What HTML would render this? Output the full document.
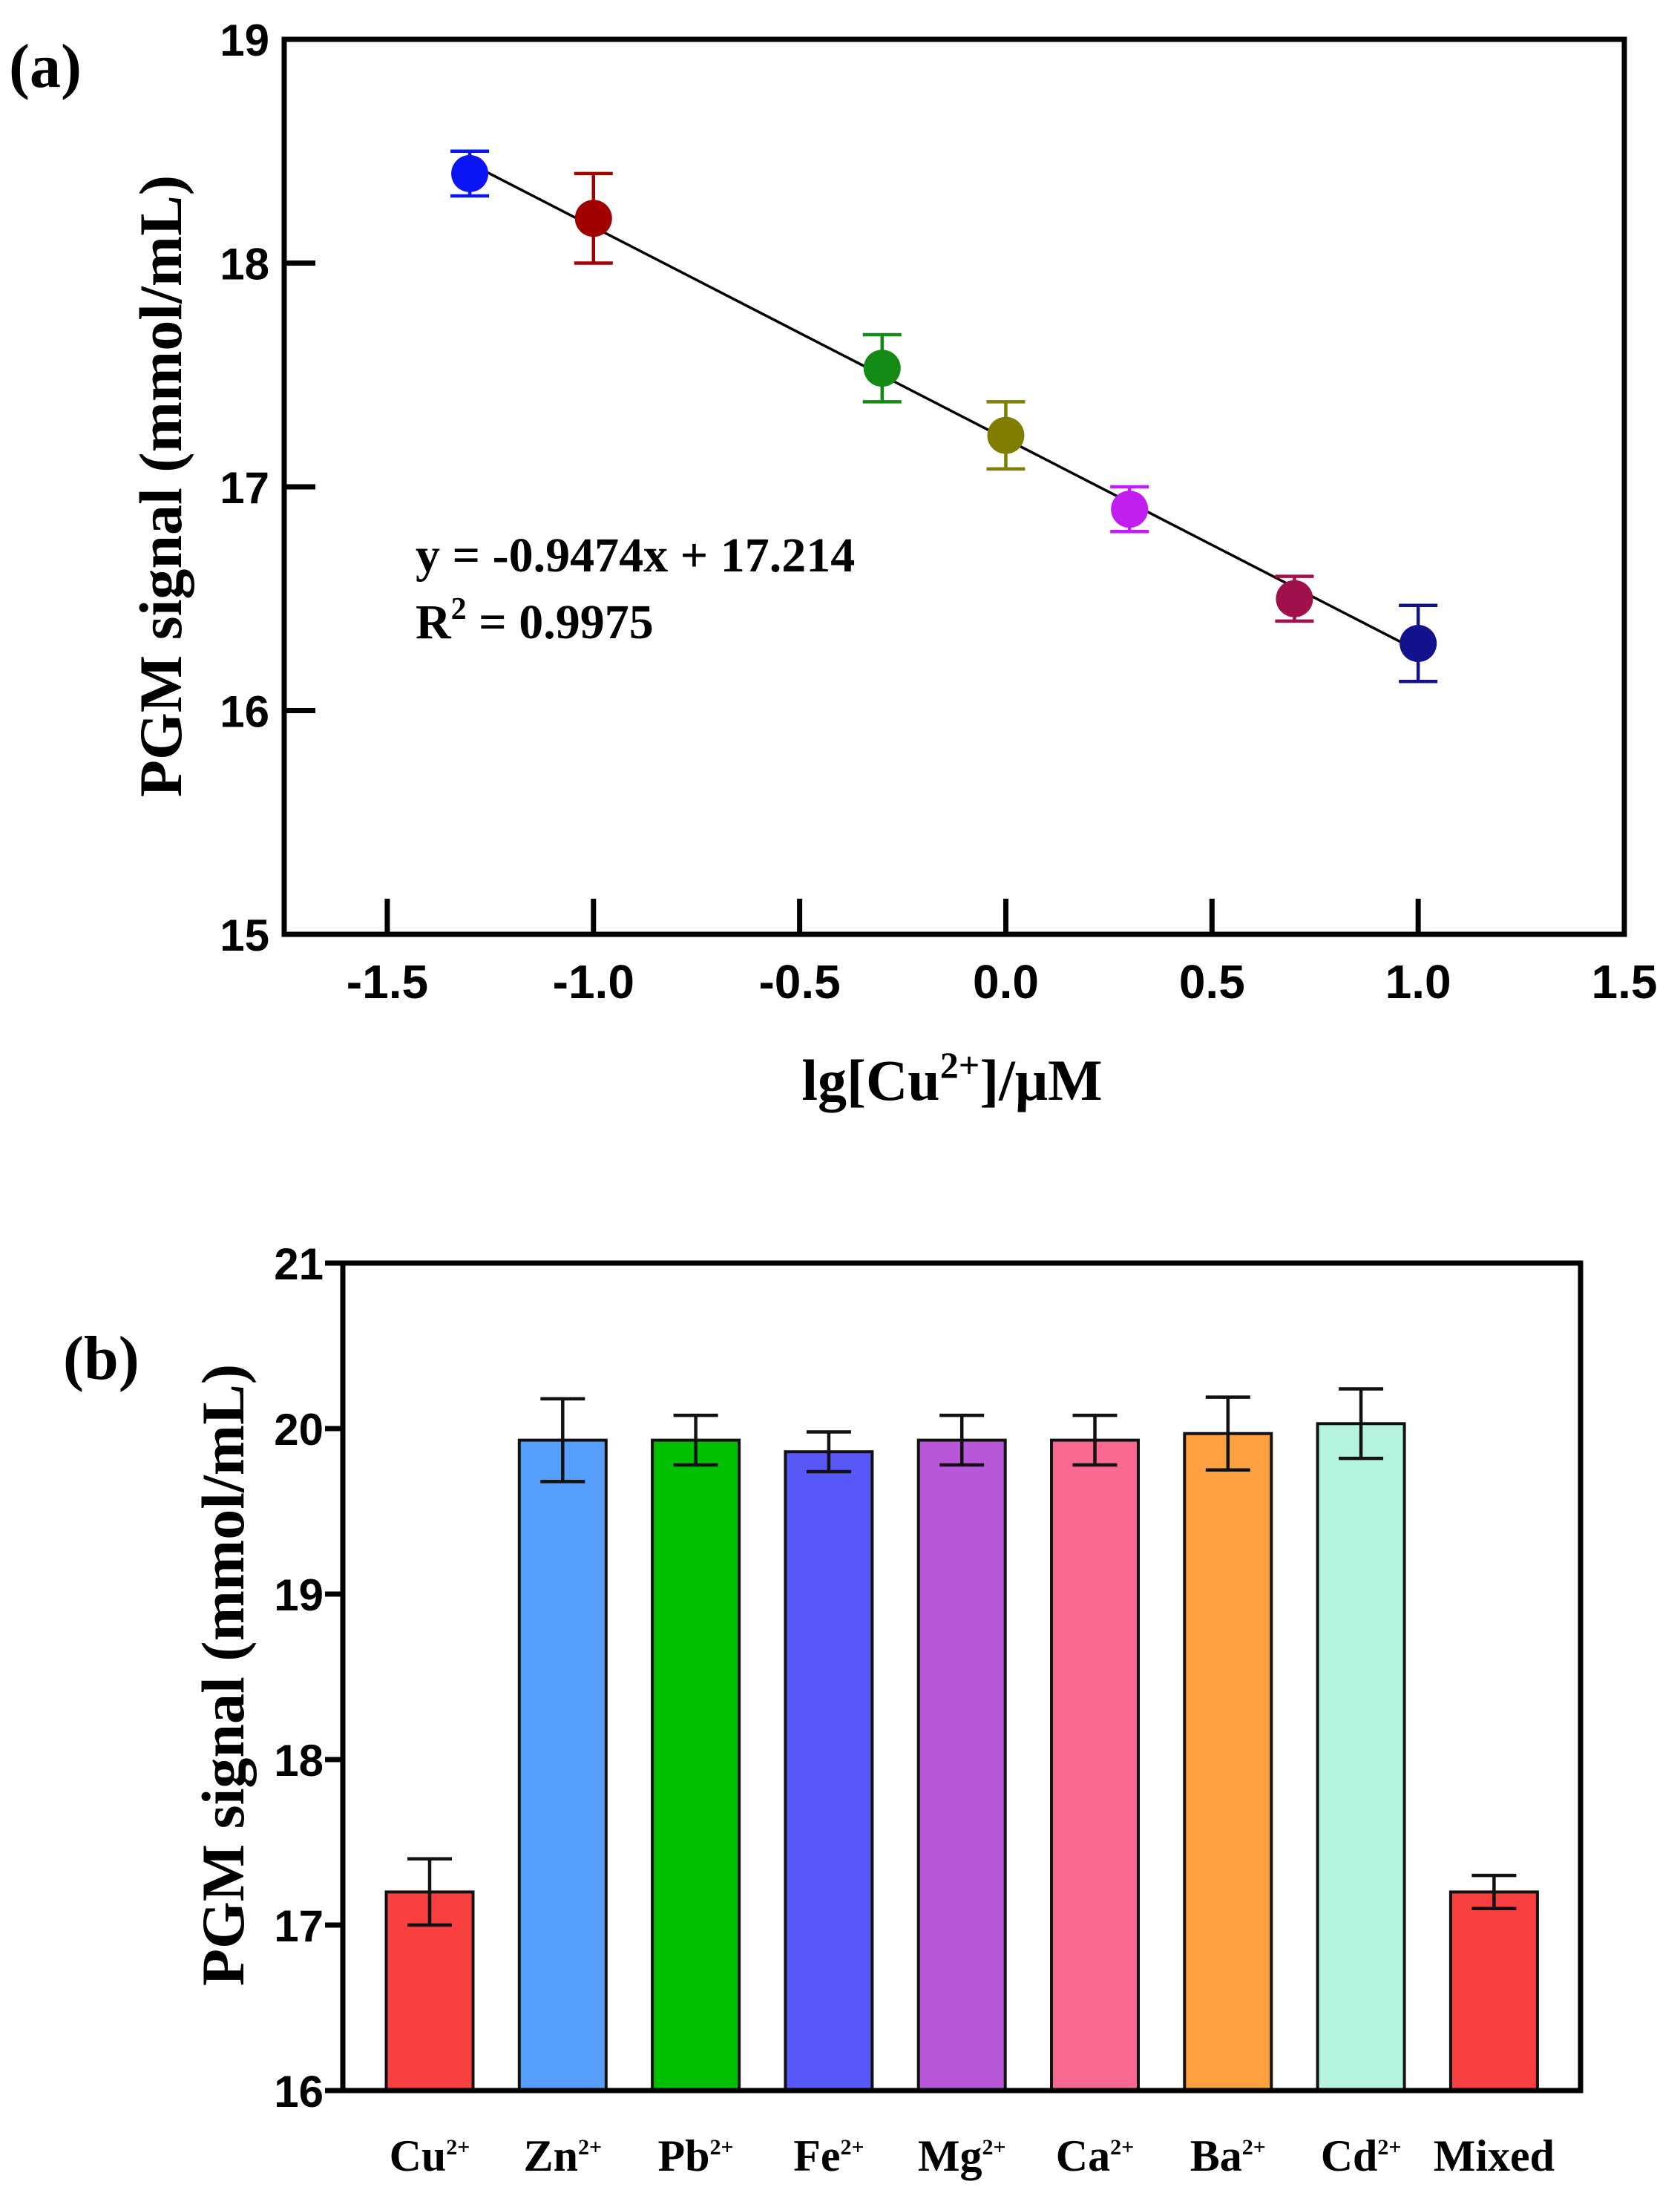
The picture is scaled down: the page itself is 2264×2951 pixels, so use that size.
<!DOCTYPE html>
<html><head><meta charset="utf-8"><style>
html,body{margin:0;padding:0;background:#fff;}
svg{display:block;}
.tk{font-family:"Liberation Sans",Arial,sans-serif;font-weight:bold;}
.tm{font-family:"Liberation Serif","Times New Roman",serif;font-weight:bold;}
</style></head><body>
<svg id="fig" width="2264" height="2951" viewBox="0 0 2264 2951" xmlns="http://www.w3.org/2000/svg">
<text class="tm" x="12" y="117" font-size="84">(a)</text>
<text class="tm" x="85" y="1858" font-size="84">(b)</text>
<g id="chartA"></g>
<g id="chartB"></g>
</svg>
<script>
// ----- chart A data -----
const aX = [-1.3, -1.0, -0.3, 0.0, 0.3, 0.7, 1.0];
const aY = [18.4, 18.2, 17.53, 17.23, 16.9, 16.5, 16.3];
const aErr = [0.1, 0.2, 0.15, 0.15, 0.1, 0.1, 0.17];
const aColors = ['#0a14f5', '#a00000', '#138a13', '#807e00', '#c21ef0', '#a0104c', '#12128c'];
const aXTicks = [-1.5, -1.0, -0.5, 0.0, 0.5, 1.0, 1.5];
const aXTickLabels = ['-1.5', '-1.0', '-0.5', '0.0', '0.5', '1.0', '1.5'];
const aYTicks = [15, 16, 17, 18, 19];
const aYTickLabels = ['15', '16', '17', '18', '19'];
const fitSlope = -0.9474;
const fitIntercept = 17.214;
// ----- chart B data -----
const bCats = ['Cu', 'Zn', 'Pb', 'Fe', 'Mg', 'Ca', 'Ba', 'Cd', 'Mixed'];
const bSup = ['2+', '2+', '2+', '2+', '2+', '2+', '2+', '2+', ''];
const bVals = [17.2, 19.93, 19.93, 19.86, 19.93, 19.93, 19.97, 20.03, 17.2];
const bErr = [0.2, 0.25, 0.15, 0.12, 0.15, 0.15, 0.22, 0.21, 0.1];
const bColors = ['#f84040', '#569ffc', '#00c000', '#5858f8', '#b858d8', '#f86890', '#fca040', '#b4f4dc', '#f84040'];
const bYTicks = [16, 17, 18, 19, 20, 21];
const bYTickLabels = ['16', '17', '18', '19', '20', '21'];

const NS = 'http://www.w3.org/2000/svg';
function mk(tag, attrs, parent) {
  const e = document.createElementNS(NS, tag);
  for (const k in attrs) e.setAttribute(k, attrs[k]);
  parent.appendChild(e);
  return e;
}

// ===== Chart A =====
(function () {
  const g = document.getElementById('chartA');
  const L = 383, R = 2189, T = 53, B = 1259;
  const xMin = -1.75, xMax = 1.5, yMin = 15, yMax = 19;
  const sx = v => L + (v - xMin) / (xMax - xMin) * (R - L);
  const sy = v => B - (v - yMin) / (yMax - yMin) * (B - T);

  aYTicks.forEach((t, i) => {
    const ln = mk('line', {x1: L, x2: L + 42, y1: sy(t), y2: sy(t), stroke: '#000', 'stroke-width': 7}, g);
    
    
    const tx = mk('text', {x: L - 20, y: sy(t) + 22, 'text-anchor': 'end', 'font-size': 60, class: 'tk'}, g);
    tx.textContent = aYTickLabels[i];
    
    
  });
  aXTicks.forEach((t, i) => {
    if (t > xMin && t < xMax) {
      const ln = mk('line', {x1: sx(t), x2: sx(t), y1: B, y2: B - 48, stroke: '#000', 'stroke-width': 7}, g);
      
      
    }
    const tx = mk('text', {x: sx(t), y: B + 86, 'text-anchor': 'middle', 'font-size': 64, class: 'tk'}, g);
    tx.textContent = aXTickLabels[i];
    
    
  });

  const x0 = Math.min(...aX), x1 = Math.max(...aX);
  const fit = mk('line', {x1: sx(x0), y1: sy(fitSlope * x0 + fitIntercept), x2: sx(x1), y2: sy(fitSlope * x1 + fitIntercept), stroke: '#000', 'stroke-width': 3.5}, g);
  
  

  aX.forEach((x, i) => {
    const c = aColors[i], cx = sx(x);
    const eb = mk('path', {d: `M${cx},${sy(aY[i] + aErr[i])}V${sy(aY[i] - aErr[i])}M${cx - 26},${sy(aY[i] + aErr[i])}H${cx + 26}M${cx - 26},${sy(aY[i] - aErr[i])}H${cx + 26}`, stroke: c, 'stroke-width': 4.5, fill: 'none'}, g);
    
    
    const p = mk('circle', {cx: cx, cy: sy(aY[i]), r: 25, fill: c}, g);
    
    
  });

  const fr = mk('rect', {x: L, y: T, width: R - L, height: B - T, fill: 'none', stroke: '#000', 'stroke-width': 7}, g);
  
  

  const eq = mk('text', {x: 560, y: 770, 'font-size': 66, class: 'tm'}, g);
  eq.textContent = 'y = -0.9474x + 17.214';
  
  
  const r2 = mk('text', {x: 560, y: 860, 'font-size': 66, class: 'tm'}, g);
  r2.innerHTML = 'R<tspan dy="-26" font-size="42">2</tspan><tspan dy="26"> = 0.9975</tspan>';
  
  

  const yt = mk('text', {x: 0, y: 0, 'font-size': 82, class: 'tm', 'text-anchor': 'middle', transform: 'translate(244,655) rotate(-90)'}, g);
  yt.textContent = 'PGM signal (mmol/mL)';
  
  
  const xt = mk('text', {x: 1283, y: 1482, 'font-size': 78, class: 'tm', 'text-anchor': 'middle'}, g);
  xt.innerHTML = 'lg[Cu<tspan dy="-30" font-size="50">2+</tspan><tspan dy="30">]/μM</tspan>';
  
  
})();

// ===== Chart B =====
(function () {
  const g = document.getElementById('chartB');
  const L = 462, R = 2130, T = 1702, B = 2817;
  const yMin = 16, yMax = 21;
  const sy = v => B - (v - yMin) / (yMax - yMin) * (B - T);
  const step = 179.3;
  const cxOf = i => 579 + step * i;
  const bw = 117;

  bYTicks.forEach((t, i) => {
    const ln = mk('line', {x1: L - 24, x2: L, y1: sy(t), y2: sy(t), stroke: '#000', 'stroke-width': 7}, g);
    
    
    const tx = mk('text', {x: L - 26, y: sy(t) + 22, 'text-anchor': 'end', 'font-size': 60, class: 'tk'}, g);
    tx.textContent = bYTickLabels[i];
    
    
  });

  bCats.forEach((c, i) => {
    const cx = cxOf(i), v = bVals[i];
    const bar = mk('rect', {x: cx - bw / 2, y: sy(v), width: bw, height: B - sy(v), fill: bColors[i], stroke: '#111', 'stroke-width': 4}, g);
    
    
    const e1 = sy(v + bErr[i]), e2 = sy(v - bErr[i]);
    const eb = mk('path', {d: `M${cx},${e1}V${e2}M${cx - 30},${e1}H${cx + 30}M${cx - 30},${e2}H${cx + 30}`, stroke: '#111', 'stroke-width': 4.5, fill: 'none'}, g);
    
    
    const tx = mk('text', {x: cx, y: 2925, 'text-anchor': 'middle', 'font-size': 60, class: 'tm'}, g);
    tx.innerHTML = bSup[i] ? c + '<tspan dy="-22" font-size="30">' + bSup[i] + '</tspan>' : c;
    
    
  });

  const fr = mk('rect', {x: L, y: T, width: R - L, height: B - T, fill: 'none', stroke: '#000', 'stroke-width': 7}, g);
  
  

  const yt = mk('text', {x: 0, y: 0, 'font-size': 82, class: 'tm', 'text-anchor': 'middle', transform: 'translate(328,2257) rotate(-90)'}, g);
  yt.textContent = 'PGM signal (mmol/mL)';
  
  
})();
</script>
</body></html>
